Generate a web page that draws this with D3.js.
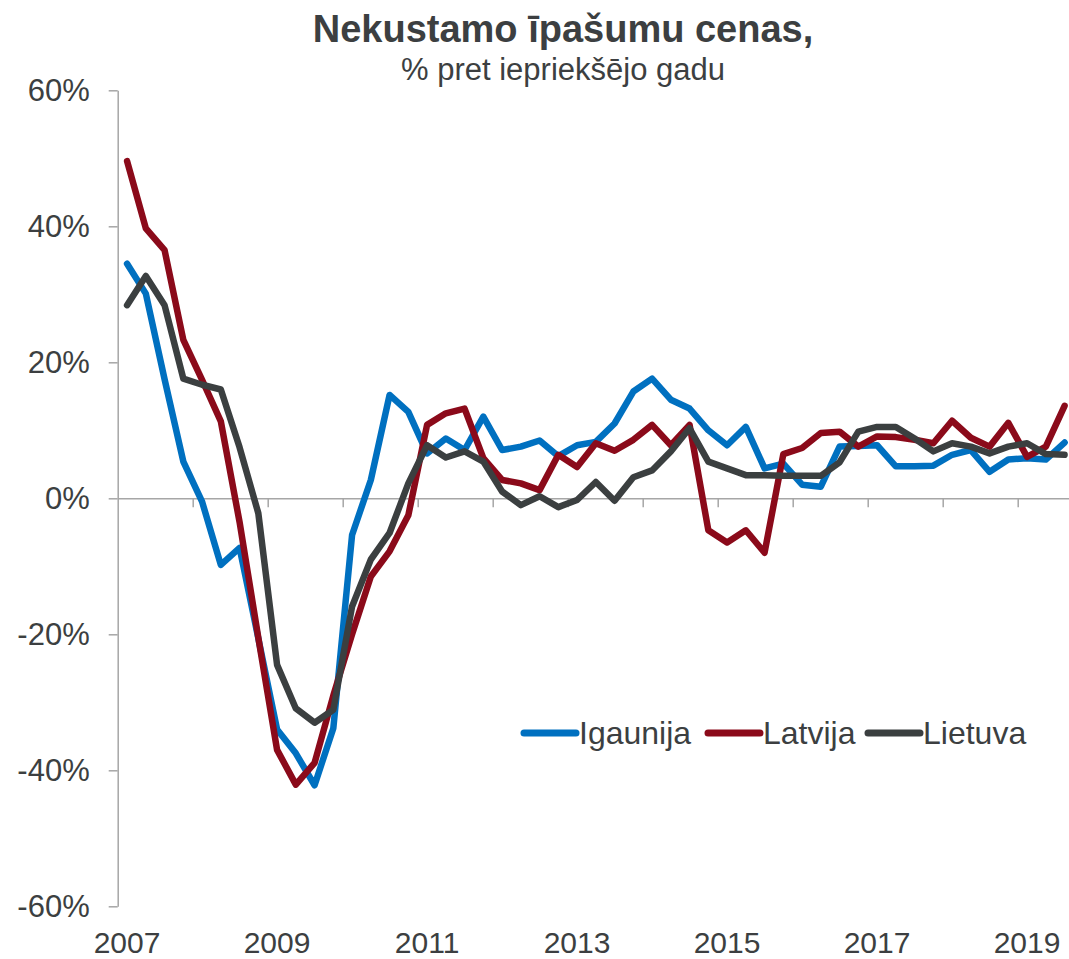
<!DOCTYPE html>
<html>
<head>
<meta charset="utf-8">
<script src="https://cdn.jsdelivr.net/npm/d3@7"></script>
<style>
  body { margin: 0; background: #fff; }
  svg text { font-family: "Liberation Sans", Arial, sans-serif; fill: #3c3f41; }
</style>
</head>
<body>
<div id="chart"></div>
<script>
// quarterly data, 2007 Q1 .. 2019 Q3
const quarters = d3.range(51).map((i) => (2007 + Math.floor(i / 4)) + "Q" + (i % 4 + 1));
const yearLabels = ["2007", "2009", "2011", "2013", "2015", "2017", "2019"];
const yTicks = [-60, -40, -20, 0, 20, 40, 60];

const igaunija = [34.5, 30.1, 17.5, 5.4, -0.5, -9.8, -7.3, -20.6, -34, -37.5,
  -42.2, -33.8, -5.4, 2.7, 15.2, 12.7, 6.6, 8.8, 7.1, 12,
  7.1, 7.6, 8.5, 6.2, 7.8, 8.3, 11, 15.7, 17.6, 14.5,
  13.2, 10, 7.8, 10.5, 4.4, 5.1, 2, 1.7, 7.6, 7.7,
  7.8, 4.7, 4.7, 4.8, 6.4, 7.1, 3.9, 5.7, 5.9, 5.7, 8.2];
const latvija = [49.6, 39.7, 36.5, 23.3, 17.4, 11.3, -3.5, -20.5, -37, -42.1,
  -38.9, -29, -20, -11.5, -7.8, -2.5, 10.8, 12.5, 13.2, 5.9,
  2.7, 2.2, 1.2, 6.4, 4.6, 8.1, 7, 8.6, 10.8, 7.8,
  10.8, -4.7, -6.5, -4.7, -8, 6.5, 7.4, 9.6, 9.8, 7.6,
  9.1, 9, 8.6, 8.1, 11.4, 8.9, 7.6, 11.1, 6.1, 7.6, 13.6];
const lietuva = [28.4, 32.7, 28.4, 17.6, 16.7, 16, 7.5, -2.2, -24.5, -30.9,
  -33, -31.1, -15.9, -9, -5.1, 2.2, 7.8, 6, 6.9, 5.4,
  1, -1, 0.3, -1.3, -0.25, 2.4, -0.35, 3.1, 4.1, 6.9,
  10.3, 5.4, 4.4, 3.4, 3.4, 3.3, 3.3, 3.3, 5.3, 9.8,
  10.5, 10.5, 8.8, 6.9, 8.1, 7.6, 6.6, 7.6, 8.1, 6.5, 6.4];

const series = [
  { name: "Igaunija", values: igaunija, color: "#0070c0" },
  { name: "Latvija", values: latvija, color: "#8b0a1a" },
  { name: "Lietuva", values: lietuva, color: "#3b3f40" }
];

const width = 1069, height = 959;
const left = 117.7, step = 18.75;

const svg = d3.select("#chart").append("svg")
  .attr("width", width)
  .attr("height", height);

const x = d3.scaleBand()
  .domain(quarters)
  .range([left, left + quarters.length * step])
  .paddingInner(0)
  .paddingOuter(0);

// boundary scale for tick marks between quarters
const xEdge = d3.scaleLinear()
  .domain([0, quarters.length])
  .range([left, left + quarters.length * step]);

const y = d3.scaleLinear()
  .domain([-60, 60])
  .range([906.3, 90.3]);

// title
svg.append("text")
  .attr("x", 563)
  .attr("y", 42)
  .attr("text-anchor", "middle")
  .style("font-size", "38px")
  .style("font-weight", "bold")
  .text("Nekustamo īpašumu cenas,");

svg.append("text")
  .attr("x", 563)
  .attr("y", 80)
  .attr("text-anchor", "middle")
  .style("font-size", "31px")
  .text("% pret iepriekšējo gadu");

// y axis
const yAxis = svg.append("g")
  .attr("transform", `translate(${left},0)`)
  .call(d3.axisLeft(y).tickValues(yTicks).tickSize(9).tickSizeOuter(0)
    .tickFormat((d) => d + "%"));
yAxis.select(".domain").attr("stroke", "#a6a6a6").attr("stroke-width", 1.5);
yAxis.selectAll(".tick line").attr("stroke", "#a6a6a6").attr("stroke-width", 1.5);
yAxis.selectAll(".tick text")
  .attr("x", -28)
  .style("font-size", "31px");

// x axis along zero line
const xAxis = svg.append("g")
  .attr("transform", `translate(0,${y(0)})`)
  .call(d3.axisBottom(xEdge).tickValues(d3.range(4, quarters.length, 4))
    .tickSize(9).tickSizeOuter(0).tickFormat(""));
xAxis.select(".domain").attr("stroke", "#a6a6a6").attr("stroke-width", 1.5);
xAxis.selectAll(".tick line").attr("stroke", "#a6a6a6").attr("stroke-width", 1.5);

// year labels at bottom
svg.append("g")
  .selectAll("text")
  .data(yearLabels)
  .enter()
  .append("text")
  .attr("x", (d) => x(d + "Q1") + x.bandwidth() / 2)
  .attr("y", 953)
  .attr("text-anchor", "middle")
  .style("font-size", "30px")
  .text((d) => d);

// lines
const line = d3.line()
  .x((d, i) => x(quarters[i]) + x.bandwidth() / 2)
  .y((d) => y(d));

svg.append("g")
  .selectAll("path")
  .data(series)
  .enter()
  .append("path")
  .attr("d", (d) => line(d.values))
  .attr("fill", "none")
  .attr("stroke", (d) => d.color)
  .attr("stroke-width", 6.5)
  .attr("stroke-linejoin", "round")
  .attr("stroke-linecap", "round");

// legend
const legendX = [522, 706, 866];
const legend = svg.append("g")
  .selectAll("g")
  .data(series)
  .enter()
  .append("g")
  .attr("transform", (d, i) => `translate(${legendX[i]},733)`);

legend.append("line")
  .attr("x1", 2)
  .attr("x2", 54)
  .attr("stroke", (d) => d.color)
  .attr("stroke-width", 7)
  .attr("stroke-linecap", "round");

legend.append("text")
  .attr("x", 57)
  .attr("y", 11)
  .style("font-size", "32px")
  .text((d) => d.name);
</script>
</body>
</html>
